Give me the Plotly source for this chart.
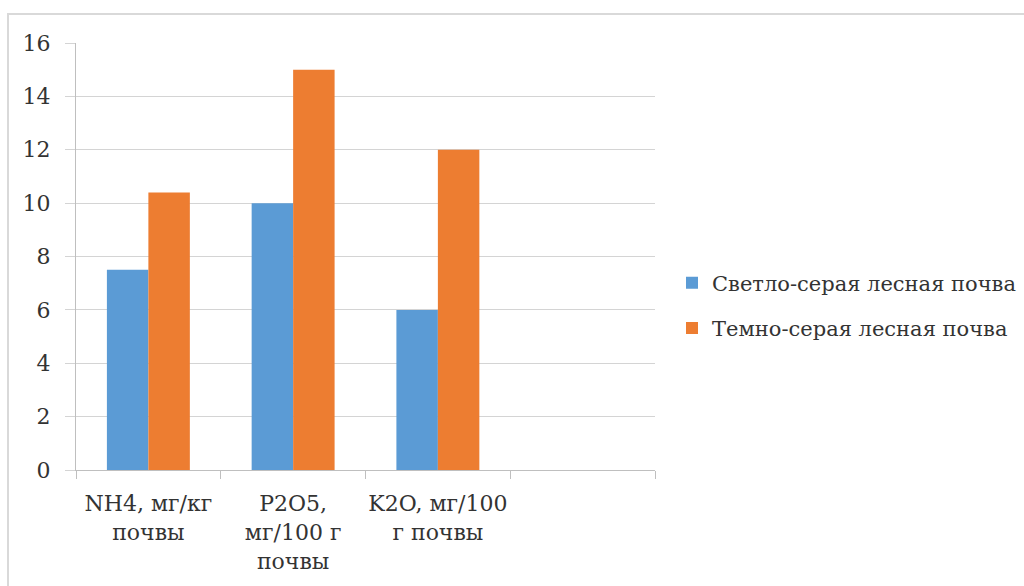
import plotly.graph_objects as go

# Soil nutrient content by soil type
categories = ["NH4, мг/кг<br>почвы", "P2O5,<br>мг/100 г<br>почвы", "K2O, мг/100<br>г почвы"]
blank_category = " "
light_grey_soil = [7.5, 10, 6]
dark_grey_soil = [10.4, 15, 12]
series_names = ["Светло-серая лесная почва", "Темно-серая лесная почва"]
y_ticks = [0, 2, 4, 6, 8, 10, 12, 14, 16]

BLUE = "#5B9BD5"
ORANGE = "#ED7D31"
GRID = "#d4d4d4"
AXIS = "#bfbfbf"
TEXT = "#333333"
FONT = "DejaVu Serif"

fig = go.Figure()
fig.add_trace(go.Bar(x=categories, y=light_grey_soil, name=series_names[0],
                     marker=dict(color=BLUE, line=dict(width=0)), legendgroup="a"))
fig.add_trace(go.Bar(x=categories, y=dark_grey_soil, name=series_names[1],
                     marker=dict(color=ORANGE, line=dict(width=0)), legendgroup="b"))

W, H = 1024, 586
L, R, T, B = 76, 655, 43, 470
pw, ph = R - L, B - T

def px_x(x):
    return (x - L) / pw

def px_y(y):
    return (B - y) / ph

fig.update_layout(
    width=W, height=H,
    margin=dict(l=L, r=W - R, t=T, b=H - B, pad=0, autoexpand=False),
    paper_bgcolor="white", plot_bgcolor="white",
    barmode="group", bargap=0.427, bargroupgap=0,
    font=dict(family=FONT, size=22, color=TEXT),
    showlegend=True,
    legend=dict(
        x=px_x(672), y=px_y(305.5), xanchor="left", yanchor="middle",
        font=dict(family=FONT, size=21, color=TEXT),
        traceorder="grouped", tracegroupgap=15,
        itemwidth=30, bgcolor="rgba(0,0,0,0)",
    ),
    xaxis=dict(
        type="category",
        categoryorder="array", categoryarray=categories + [blank_category],
        range=[-0.5, 3.5],
        tickson="boundaries", ticks="outside", ticklen=8, tickcolor=AXIS, tickwidth=1,
        showline=True, linecolor=AXIS, linewidth=1,
        showgrid=False, zeroline=False,
        tickangle=0, automargin=False,
        tickfont=dict(family=FONT, size=22, color=TEXT),
        ticklabelstandoff=14,
        fixedrange=True,
    ),
    yaxis=dict(
        range=[0, 16], tickvals=y_ticks,
        ticks="outside", ticklen=10, tickcolor=GRID, tickwidth=1,
        showline=True, linecolor=AXIS, linewidth=1,
        showgrid=True, gridcolor=GRID, gridwidth=1,
        zeroline=False, automargin=False,
        tickfont=dict(family=FONT, size=22, color=TEXT),
        ticklabelstandoff=10,
        fixedrange=True,
    ),
    shapes=[dict(
        type="rect", xref="paper", yref="paper",
        x0=px_x(8), x1=px_x(1040), y0=px_y(600), y1=px_y(14),
        line=dict(color="#d9d9d9", width=2), fillcolor="rgba(0,0,0,0)", layer="below",
    )],
)

fig.write_html("out.html", config={"displayModeBar": False})
